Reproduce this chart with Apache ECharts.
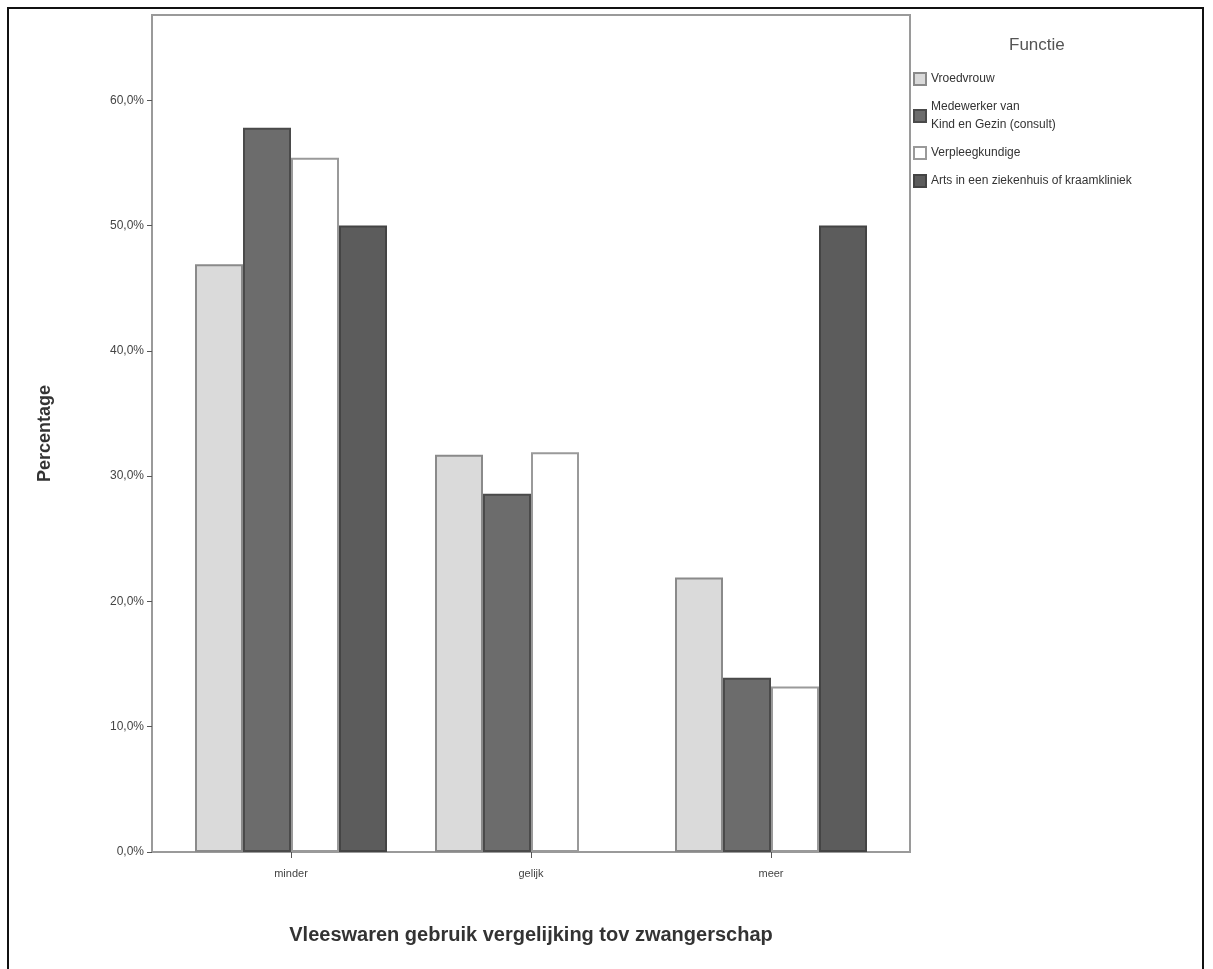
<!DOCTYPE html>
<html>
<head>
<meta charset="utf-8">
<script src="https://cdn.jsdelivr.net/npm/echarts@6/dist/echarts.min.js"></script>
<style>
  html, body { margin: 0; padding: 0; background: #fff; }
  #frame { position: absolute; left: 7px; top: 7px; width: 1197px; height: 970px; border: 2px solid #111; border-bottom: none; box-sizing: border-box; }
  #chart { position: absolute; left: 0; top: 0; width: 1213px; height: 969px; }
</style>
</head>
<body>
<div id="frame"></div>
<div id="chart"></div>
<script>
const categories = ["minder", "gelijk", "meer"];
const seriesNames = ["Vroedvrouw", "Medewerker van\nKind en Gezin (consult)", "Verpleegkundige", "Arts in een ziekenhuis of kraamkliniek"];
const vroedvrouw = [46.9, 31.7, 21.9];
const medewerker = [57.8, 28.6, 13.9];
const verpleegkundige = [55.4, 31.9, 13.2];
const arts = [50.0, 0, 50.0];
const yTicks = [0, 10, 20, 30, 40, 50, 60];

const fills = ["#dadada", "#6c6c6c", "#ffffff", "#5c5c5c"];
const borders = ["#8a8a8a", "#4a4a4a", "#9a9a9a", "#444444"];
const values = [vroedvrouw, medewerker, verpleegkundige, arts];

const chart = echarts.init(document.getElementById("chart"));

const option = {
    animation: false,
    backgroundColor: "transparent",
    grid: {
        left: 171,
        right: 322,
        top: 15,
        bottom: 117,
    },
    graphic: [
        {
            type: "rect",
            shape: { x: 152, y: 15, width: 758, height: 837 },
            style: { fill: "none", stroke: "#9a9a9a", lineWidth: 2 },
            z: 0,
        },
    ],
    legend: {
        orient: "vertical",
        left: 908,
        top: 65,
        itemWidth: 12,
        itemHeight: 12,
        itemGap: 10,
        icon: "rect",
        textStyle: { fontFamily: "Liberation Sans", fontSize: 12, color: "#333", lineHeight: 18 },
        data: seriesNames,
    },
    title: {
        text: "Functie",
        left: 1004,
        top: 32,
        textStyle: { fontFamily: "Liberation Sans", fontSize: 17, fontWeight: "normal", color: "#555" },
    },
    xAxis: {
        type: "category",
        data: categories,
        name: "Vleeswaren gebruik vergelijking tov zwangerschap",
        nameLocation: "middle",
        nameGap: 73,
        nameTextStyle: { fontFamily: "Liberation Sans", fontSize: 20, fontWeight: "bold", color: "#333" },
        axisLine: { show: false },
        axisTick: { show: true, alignWithLabel: true, length: 6, lineStyle: { color: "#555" } },
        axisLabel: { fontFamily: "Liberation Sans", fontSize: 11, color: "#444", margin: 16 },
    },
    yAxis: {
        type: "value",
        min: 0,
        max: 66.8,
        interval: 10,
        offset: 19,
        name: "Percentage",
        nameLocation: "middle",
        nameGap: 98,
        nameTextStyle: { fontFamily: "Liberation Sans", fontSize: 18, fontWeight: "bold", color: "#333" },
        axisLine: { show: false },
        axisTick: { show: true, length: 5, lineStyle: { color: "#555" } },
        splitLine: { show: false },
        axisLabel: {
            fontFamily: "Liberation Sans",
            fontSize: 12,
            color: "#444",
            margin: 8,
            showMaxLabel: false,
            formatter: (v) => yTicks.includes(v) ? v.toFixed(1).replace(".", ",") + "%" : "",
        },
    },
    series: seriesNames.map((name, i) => ({
        name: name,
        type: "bar",
        data: values[i].map((v) => (v === 0 ? { value: v, itemStyle: { borderWidth: 0 } } : v)),
        barWidth: 48,
        barGap: "0%",
        itemStyle: {
            color: fills[i],
            borderColor: borders[i],
            borderWidth: 2,
        },
    })),
};

chart.setOption(option);
</script>
</body>
</html>
